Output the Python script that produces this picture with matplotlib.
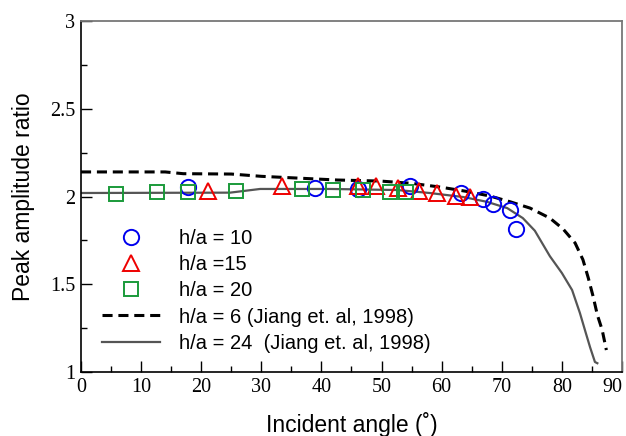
import numpy as np
import matplotlib
matplotlib.use('Agg')
import matplotlib.pyplot as plt
from matplotlib.ticker import MultipleLocator

# measured points
angle_10 = [17.8, 38.9, 46.1, 54.7, 63.2, 66.9, 68.6, 71.4, 72.4]
ratio_10 = [2.054, 2.05, 2.043, 2.06, 2.02, 1.986, 1.957, 1.923, 1.815]

angle_15 = [21.1, 33.4, 46.1, 49.1, 52.7, 56.2, 59.2, 62.4, 64.7]
ratio_15 = [2.03, 2.06, 2.062, 2.062, 2.05, 2.03, 2.02, 2.005, 1.995]

angle_20 = [5.8, 12.6, 17.8, 25.8, 36.8, 41.9, 46.9, 51.4, 54.1]
ratio_20 = [2.014, 2.026, 2.026, 2.032, 2.043, 2.035, 2.035, 2.028, 2.028]

# Jiang et al. 1998 curves
jiang6_angle = [0, 14, 17, 25, 30, 36, 42.6, 49.8, 55, 59.7, 64, 68, 71.4, 74.7,
                78, 80.2, 82.2, 83.5, 84.4, 85.2, 85.9, 86.7, 87.4]
jiang6_ratio = [2.14, 2.14, 2.13, 2.128, 2.115, 2.105, 2.094, 2.088, 2.075, 2.054, 2.03,
                2.003, 1.97, 1.934, 1.877, 1.815, 1.735, 1.64, 1.535, 1.43, 1.325,
                1.24, 1.125]

jiang24_angle = [0, 24.8, 29.8, 41.4, 52.6, 58, 63.6, 67.5, 70.9, 73.5, 75.5,
                 78, 80, 81.7, 83, 84, 84.7, 85.5, 85.9]
jiang24_ratio = [2.02, 2.022, 2.043, 2.043, 2.037, 2.02, 1.997, 1.97, 1.934, 1.877,
                 1.805, 1.66, 1.564, 1.467, 1.336, 1.22, 1.14, 1.057, 1.05]

x_ticks = [0, 10, 20, 30, 40, 50, 60, 70, 80, 90]
y_ticks = [1, 1.5, 2, 2.5, 3]
y_ticklabels = ['1', '1.5', '2', '2.5', '3']

sans = 'Liberation Sans'
serif = 'Liberation Serif'

fig = plt.figure(figsize=(6.26, 4.36), dpi=100)
ax = fig.add_axes([0.1294, 0.1468, 0.8642, 0.805])

ax.plot(angle_10, ratio_10, 'o', ms=11, mfc='none', mec='#0000ee', mew=1.4,
        label='h/a = 10', zorder=3)
ax.plot(angle_15, ratio_15, '^', ms=11, mfc='none', mec='#ee0000', mew=1.4,
        label='h/a =15', zorder=3)
ax.plot(angle_20, ratio_20, 's', ms=10.5, mfc='none', mec='#1a9a3a', mew=1.4,
        label='h/a = 20', zorder=3)
ax.plot(jiang6_angle, jiang6_ratio, '--', color='black', lw=2.2, dashes=(3.3, 1.9),
        label='h/a = 6 (Jiang et. al, 1998)', zorder=2)
ax.plot(jiang24_angle, jiang24_ratio, '-', color='#555555', lw=1.6,
        label='h/a = 24  (Jiang et. al, 1998)', zorder=2)

ax.set_xlim(0, 90)
ax.set_ylim(1, 3)
ax.set_xticks(x_ticks)
ax.set_xticklabels([str(t) for t in x_ticks])
ax.xaxis.set_minor_locator(MultipleLocator(5))
ax.set_yticks(y_ticks)
ax.set_yticklabels(y_ticklabels)
ax.yaxis.set_minor_locator(MultipleLocator(0.25))

ax.tick_params(which='both', direction='in', top=False, right=False,
               labelsize=14.5, color='black', pad=4)
ax.tick_params(which='major', length=8, width=1)
ax.tick_params(which='minor', length=4, width=1)
for lab in ax.get_xticklabels() + ax.get_yticklabels():
    lab.set_fontfamily(serif)
ax.get_xticklabels()[-1].set_horizontalalignment('right')

for side in ['top', 'right']:
    ax.spines[side].set_color('#777777')
    ax.spines[side].set_linewidth(1.3)
for side in ['left', 'bottom']:
    ax.spines[side].set_linewidth(1.2)

ax.set_xlabel('Incident angle (˚)', fontfamily=sans, fontsize=16.5, labelpad=11)
ax.set_ylabel('Peak amplitude ratio', fontfamily=sans, fontsize=16.5, labelpad=11)

ax.legend(loc='upper left', bbox_to_anchor=(0.024, 0.431), frameon=False,
          prop={'family': sans, 'size': 14.5}, handlelength=2.9,
          handletextpad=0.9, labelspacing=0.36, borderaxespad=0)

fig.savefig('out.png', dpi=100)
